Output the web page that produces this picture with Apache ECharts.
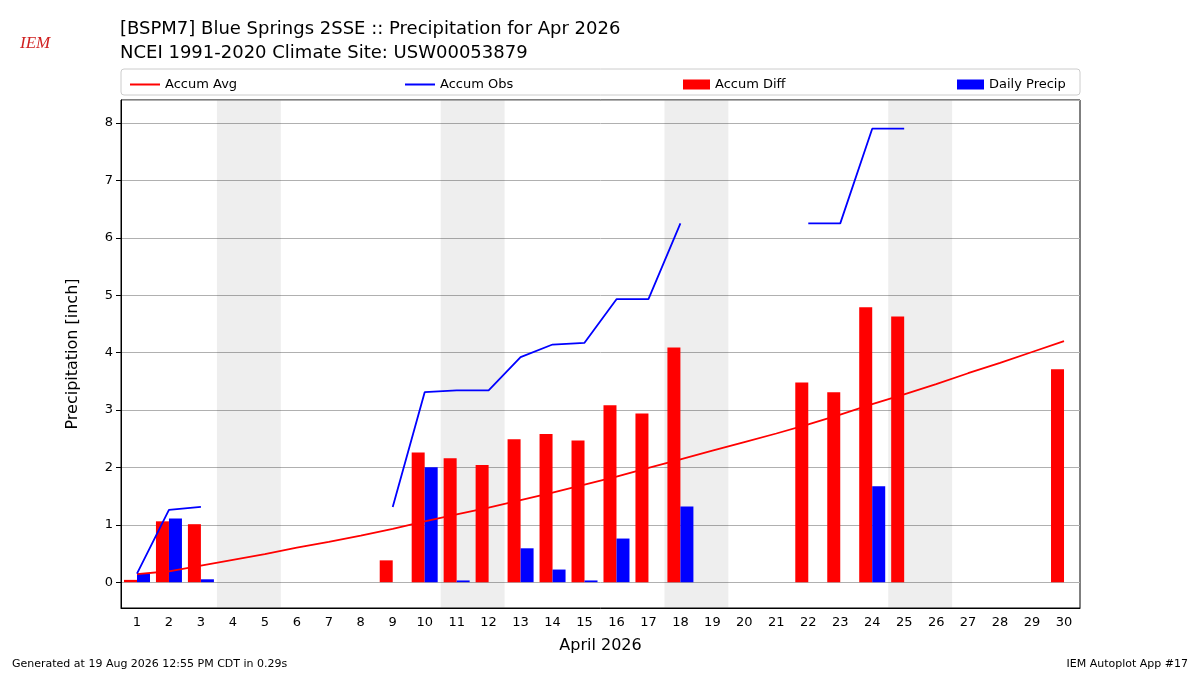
<!DOCTYPE html>
<html><head><meta charset="utf-8">
<script src="https://cdn.jsdelivr.net/npm/echarts@6/dist/echarts.min.js"></script>
<style>body{margin:0}#c{width:1200px;height:675px}</style></head>
<body><div id="c"></div>
<script>
const days = Array.from({length:30},(_,i)=>String(i+1));
const accumAvg = [0.14,0.19,0.29,0.39,0.49,0.60,0.70,0.81,0.93,1.06,1.18,1.30,1.43,1.56,1.70,1.84,1.99,2.14,2.29,2.44,2.59,2.75,2.92,3.10,3.27,3.45,3.64,3.82,4.01,4.20];
const accumObs = [0.15,1.26,1.31,null,null,null,null,null,1.31,3.31,3.34,3.34,3.92,4.14,4.17,4.93,4.93,6.25,null,null,null,6.25,6.25,7.90,7.90,null,null,null,null,null];
const accumDiff = [0.04,1.06,1.01,null,null,null,null,null,0.38,2.26,2.16,2.04,2.49,2.58,2.47,3.08,2.94,4.09,null,null,null,3.48,3.31,4.79,4.63,null,null,null,null,3.71];
const dailyPrecip = [0.15,1.11,0.05,0,0,0,0,0,0,2.00,0.03,0,0.59,0.22,0.03,0.76,0,1.32,0,0,0,0,0,1.67,0,0,0,0,0,0];
const weekends = [[3.5,5.5],[10.5,12.5],[17.5,19.5],[24.5,26.5]];
const F = 'DejaVu Sans';
const chart = echarts.init(document.getElementById('c'));
const lg = (name,left,line)=>({data:[{name,icon:'rect'}],left,top:73,itemWidth:line?30:27,itemHeight:line?2:10,textStyle:{fontFamily:F,fontSize:13,color:'#000'}});
chart.setOption({
  animation:false,
  title:{text:'[BSPM7] Blue Springs 2SSE :: Precipitation for Apr 2026\nNCEI 1991-2020 Climate Site: USW00053879',left:115,top:12,textStyle:{fontFamily:F,fontSize:18,fontWeight:'normal',lineHeight:24,color:'#000'}},
  graphic:[
    {type:'rect',shape:{x:121,y:69,width:959,height:26,r:3},style:{fill:'#fff',stroke:'#ccc'},z:-1},
    {type:'text',left:20,top:35,style:{text:'IEM',fill:'#d02020',font:'italic 17px serif'}},
    {type:'text',left:12,top:659,style:{text:'Generated at 19 Aug 2026 12:55 PM CDT in 0.29s',fill:'#000',font:'11px DejaVu Sans'}},
    {type:'text',right:12,top:659,style:{text:'IEM Autoplot App #17',fill:'#000',font:'11px DejaVu Sans'}}
  ],
  legend:[lg('Accum Avg',125,true),lg('Accum Obs',400,true),lg('Accum Diff',678,false),lg('Daily Precip',952,false)],
  grid:{left:121,right:120,top:100,bottom:67,show:true,borderColor:'#000',borderWidth:1},
  xAxis:[
    {type:'category',data:days,name:'April 2026',nameLocation:'middle',nameGap:30,nameTextStyle:{fontFamily:F,fontSize:16,color:'#000'},
     axisLine:{onZero:false,lineStyle:{color:'#000'}},axisTick:{alignWithLabel:true,lineStyle:{color:'#000'}},axisLabel:{fontFamily:F,fontSize:13,color:'#000'},splitLine:{show:false},z:10},
    {type:'value',min:0.5,max:30.5,show:false}
  ],
  yAxis:{type:'value',min:-0.45,max:8.4,splitNumber:9,name:'Precipitation [inch]',nameLocation:'middle',nameGap:40,nameTextStyle:{fontFamily:F,fontSize:16,color:'#000'},
    axisLine:{show:true,lineStyle:{color:'#000'}},axisTick:{show:true,lineStyle:{color:'#000'}},axisLabel:{fontFamily:F,fontSize:13,color:'#000',showMinLabel:false,showMaxLabel:false},splitLine:{lineStyle:{color:'#b0b0b0'}}},
  series:[
    {type:'line',xAxisIndex:1,data:[],markArea:{silent:true,itemStyle:{color:'rgba(0,0,0,0.068)'},data:weekends.map(w=>[{xAxis:w[0],yAxis:-0.44},{xAxis:w[1],yAxis:8.39}])},z:0},
    {name:'Accum Avg',type:'line',data:accumAvg,symbol:'none',lineStyle:{color:'#ff0000',width:1.8},itemStyle:{color:'#ff0000'},z:5},
    {name:'Accum Obs',type:'line',data:accumObs,symbol:'none',connectNulls:false,lineStyle:{color:'#0000ff',width:1.8},itemStyle:{color:'#0000ff'},z:5},
    {name:'Accum Diff',type:'bar',data:accumDiff,barWidth:13,barGap:'0%',itemStyle:{color:'#ff0000'}},
    {name:'Daily Precip',type:'bar',data:dailyPrecip,barWidth:13,barGap:'0%',itemStyle:{color:'#0000ff'}}
  ]
});
</script></body></html>
